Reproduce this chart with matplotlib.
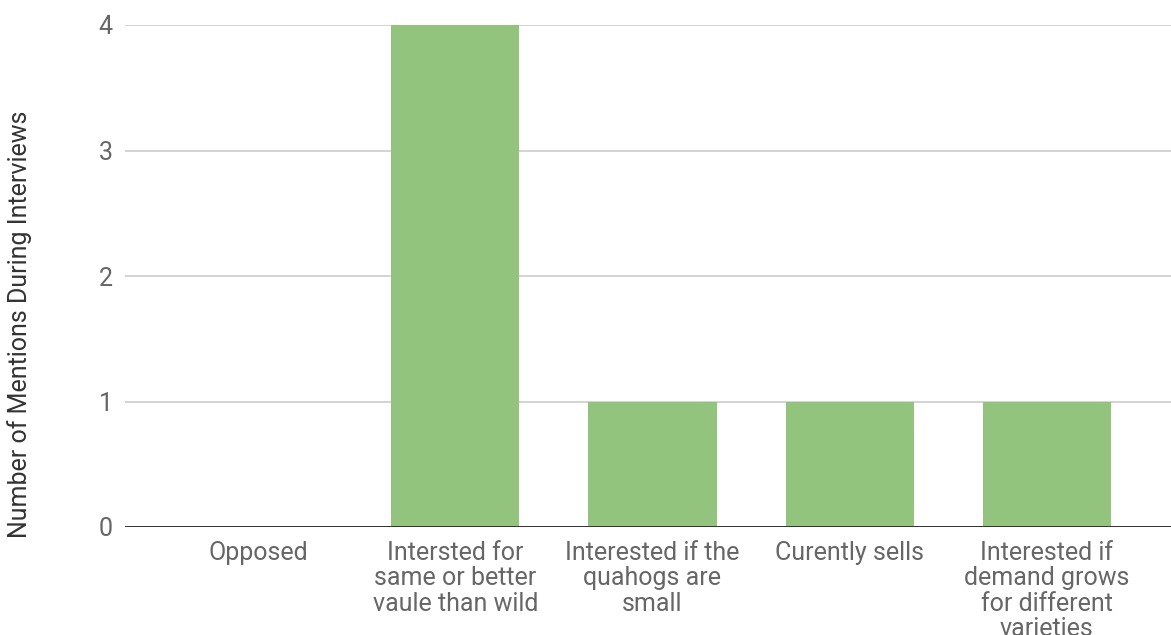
import matplotlib.pyplot as plt
import numpy as np

plt.rcParams['font.family'] = ['Roboto', 'DejaVu Sans']

categories = [
    "Opposed",
    "Intersted for\nsame or better\nvaule than wild",
    "Interested if the\nquahogs are\nsmall",
    "Curently sells",
    "Interested if\ndemand grows\nfor different\nvarieties",
]
mentions = [0, 4, 1, 1, 1]

bar_color = '#93c47d'
text_gray = '#666666'

fig = plt.figure(figsize=(11.71, 6.35), dpi=100)
ax = fig.add_axes([125 / 1171, 1 - 527 / 635, 1046 / 1171, 502 / 635])

x = np.arange(len(categories))
ax.bar(x, mentions, width=0.65, color=bar_color, zorder=2)

ax.set_ylim(0, 4)
ax.set_xlim(-0.675, 4.63)
ax.set_yticks([0, 1, 2, 3, 4])
ax.set_xticks(x)
ax.set_xticklabels(categories, fontsize=18, color=text_gray, linespacing=1.08, va='top')
ax.tick_params(axis='y', length=0, pad=9, labelsize=18, labelcolor=text_gray)
ax.tick_params(axis='x', length=0, pad=10)

ax.grid(axis='y', color='#cccccc', linewidth=1.2, zorder=0)
ax.axhline(0, color='#333333', linewidth=1.4, zorder=3)
for s in ax.spines.values():
    s.set_visible(False)

fig.text(20 / 1171, 1 - 324.5 / 635, "Number of Mentions During Interviews",
         rotation=90, ha='center', va='center', fontsize=18, color='#333333')

fig.savefig('out.png', dpi=100)
